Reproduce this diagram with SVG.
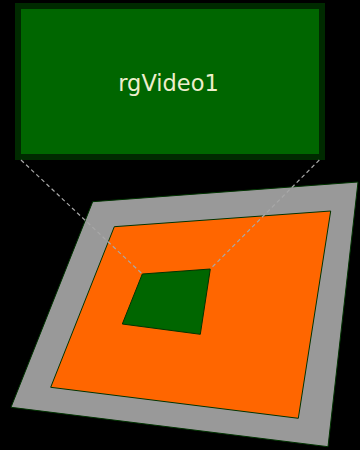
<svg xmlns="http://www.w3.org/2000/svg" width="360" height="450" viewBox="0 0 360 450">
<style>
.q{stroke:#003300;stroke-width:1;stroke-linejoin:miter}
.dash{stroke:#a8a8a8;stroke-width:1.2;stroke-dasharray:4 3;fill:none}
.lbl{font-family:"DejaVu Sans",sans-serif;font-size:22.5px;fill:#eeeecc;text-anchor:middle}
</style>
<rect width="360" height="450" fill="#000"/>
<g id="rgVideo1">
<rect x="18" y="6" width="304" height="151" fill="#006600" stroke="#002a00" stroke-width="6"/>
<text class="lbl" x="168.5" y="91">rgVideo1</text>
</g>
<g id="gray-plane">
<polygon class="q" points="92.7,201.7 358,182 328,446.7 11,407.3" fill="#999999"/>
</g>
<g id="orange-plane">
<polygon class="q" points="114.3,226.7 330.7,211 298.3,418.3 50.7,387.3" fill="#ff6600"/>
</g>
<g id="green-plane">
<polygon class="q" points="142.3,274 210.3,269 200.3,334.3 122.3,324" fill="#006600" stroke="#002200"/>
</g>
<g id="connectors">
<line class="dash" x1="21" y1="160" x2="142.3" y2="274"/>
<line class="dash" x1="319.3" y1="160" x2="210.3" y2="269"/>
</g>
</svg>
